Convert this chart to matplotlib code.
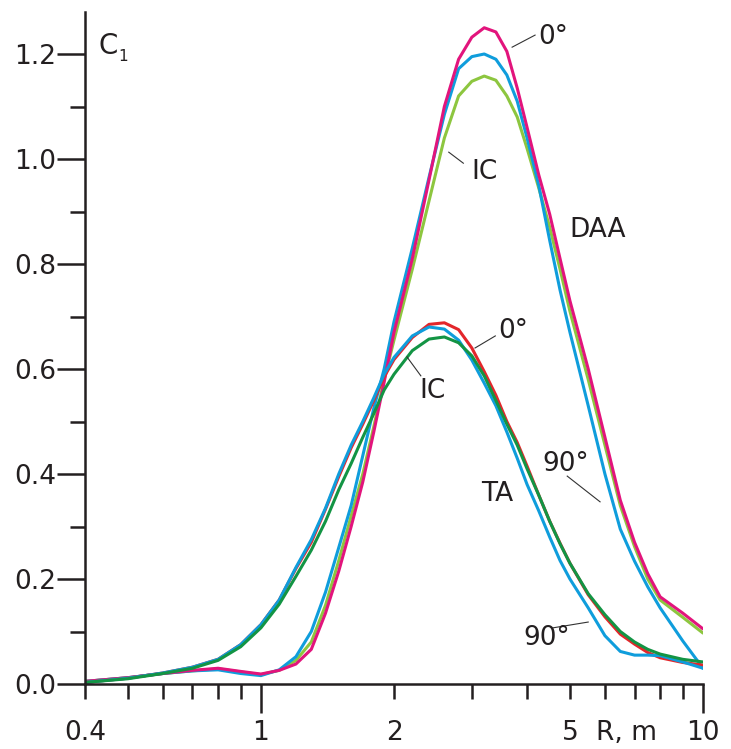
import numpy as np
import matplotlib
matplotlib.use('Agg')
import matplotlib.pyplot as plt
from matplotlib.ticker import FixedLocator, NullFormatter

# distance grid, m
R = [0.4, 0.5, 0.6, 0.7, 0.8, 0.9, 1.0, 1.1, 1.2, 1.3, 1.4, 1.5, 1.6, 1.7, 1.8, 1.9, 2.0,
     2.2, 2.4, 2.6, 2.8, 3.0, 3.2, 3.4, 3.6, 3.8, 4.0, 4.25, 4.5, 4.75, 5.0, 5.5, 6.0, 6.5,
     7.0, 7.5, 8.0, 9.0, 10.0]

# DAA curves
daa_0 = [0.005, 0.012, 0.020, 0.026, 0.030, 0.024, 0.019, 0.026, 0.038, 0.066, 0.135, 0.215,
         0.30, 0.385, 0.48, 0.575, 0.67, 0.81, 0.96, 1.10, 1.19, 1.232, 1.25, 1.242, 1.205,
         1.135, 1.06, 0.97, 0.895, 0.81, 0.73, 0.60, 0.47, 0.35, 0.27, 0.21, 0.166, 0.135, 0.105]
daa_90 = [0.005, 0.012, 0.020, 0.025, 0.029, 0.023, 0.018, 0.026, 0.045, 0.08, 0.15, 0.235,
          0.32, 0.40, 0.49, 0.58, 0.655, 0.79, 0.92, 1.04, 1.12, 1.148, 1.158, 1.15, 1.12,
          1.08, 1.02, 0.945, 0.87, 0.79, 0.71, 0.58, 0.455, 0.34, 0.262, 0.20, 0.16, 0.127, 0.097]
daa_ic = [0.005, 0.012, 0.020, 0.025, 0.027, 0.020, 0.016, 0.027, 0.052, 0.10, 0.175, 0.26,
          0.34, 0.435, 0.525, 0.60, 0.69, 0.83, 0.965, 1.085, 1.172, 1.195, 1.20, 1.19, 1.16,
          1.11, 1.04, 0.95, 0.845, 0.75, 0.67, 0.53, 0.40, 0.295, 0.234, 0.185, 0.145, 0.082, 0.03]

# TA curves
ta_0 = [0.003, 0.011, 0.021, 0.032, 0.047, 0.075, 0.113, 0.16, 0.22, 0.27, 0.333, 0.395,
        0.45, 0.495, 0.54, 0.585, 0.618, 0.66, 0.685, 0.688, 0.675, 0.64, 0.595, 0.55, 0.50,
        0.46, 0.415, 0.36, 0.31, 0.268, 0.23, 0.17, 0.128, 0.095, 0.076, 0.06, 0.05, 0.041, 0.036]
ta_90 = [0.003, 0.010, 0.020, 0.030, 0.045, 0.071, 0.107, 0.152, 0.205, 0.255, 0.31, 0.37,
         0.42, 0.47, 0.515, 0.56, 0.59, 0.635, 0.657, 0.661, 0.65, 0.625, 0.587, 0.54, 0.495,
         0.455, 0.41, 0.36, 0.31, 0.267, 0.23, 0.172, 0.132, 0.10, 0.08, 0.066, 0.057, 0.047, 0.042]
ta_ic = [0.003, 0.011, 0.021, 0.032, 0.047, 0.075, 0.113, 0.16, 0.222, 0.275, 0.335, 0.40,
         0.455, 0.50, 0.545, 0.59, 0.622, 0.663, 0.68, 0.676, 0.655, 0.617, 0.573, 0.53, 0.48,
         0.43, 0.38, 0.33, 0.28, 0.235, 0.20, 0.145, 0.092, 0.062, 0.055, 0.055, 0.054, 0.042, 0.03]

x_labels = [0.4, 1, 2, 5, 10]
y_ticks = [0.0, 0.2, 0.4, 0.6, 0.8, 1.0, 1.2]

MAGENTA = '#e2147c'
LIME = '#8dc63f'
BLUE = '#0f9ddc'
RED = '#e3262b'
GREEN = '#139444'
INK = '#231f20'

plt.rcParams['font.family'] = ['DejaVu Sans']
fs = 19

fig = plt.figure(figsize=(7.31, 7.49), dpi=100)
ax = fig.add_axes([85 / 731, 65 / 749, 618 / 731, 672 / 749])

lw = 2.2
kw = dict(lw=lw, solid_capstyle='round', solid_joinstyle='round')
ax.plot(R, daa_90, color=LIME, **kw)
ax.plot(R, daa_ic, color=BLUE, **kw)
ax.plot(R, daa_0, color=MAGENTA, **kw)
ax.plot(R, ta_0, color=RED, **kw)
ax.plot(R, ta_ic, color=BLUE, **kw)
ax.plot(R, ta_90, color=GREEN, **kw)

ax.set_xscale('log')
ax.set_xlim(0.4, 10)
ax.set_ylim(0, 1.28)

for s in ['top', 'right']:
    ax.spines[s].set_visible(False)
for s in ['left', 'bottom']:
    ax.spines[s].set_linewidth(1.8)
    ax.spines[s].set_color(INK)

# x ticks: long at decades, short elsewhere, labels drawn as text
ax.xaxis.set_major_locator(FixedLocator([1, 10]))
ax.xaxis.set_minor_locator(FixedLocator([0.4, 0.5, 0.6, 0.7, 0.8, 0.9, 2, 3, 4, 5, 6, 7, 8, 9]))
ax.xaxis.set_major_formatter(NullFormatter())
ax.xaxis.set_minor_formatter(NullFormatter())
ax.tick_params(axis='x', which='major', length=21, width=1.8, color=INK, direction='out')
ax.tick_params(axis='x', which='minor', length=10.5, width=1.8, color=INK, direction='out')

ax.yaxis.set_major_locator(FixedLocator(y_ticks))
ax.yaxis.set_minor_locator(FixedLocator([0.1, 0.3, 0.5, 0.7, 0.9, 1.1]))
ax.set_yticklabels([f'{v:.1f}' for v in y_ticks])
ax.tick_params(axis='y', which='major', length=20, width=1.8, color=INK, pad=1,
               labelsize=fs, labelcolor=INK)
ax.tick_params(axis='y', which='minor', length=10.5, width=1.8, color=INK)

for v in x_labels:
    ax.annotate(f'{v:g}', xy=(v, 0), xycoords=('data', 'axes fraction'),
                xytext=(0, -35), textcoords='offset points',
                ha='center', va='center', fontsize=fs, color=INK)
ax.annotate('R, m', xy=(6.7, 0), xycoords=('data', 'axes fraction'),
            xytext=(0, -35), textcoords='offset points',
            ha='center', va='center', fontsize=fs, color=INK)

ax.text(0.43, 1.215, 'C', fontsize=fs + 1, color=INK, ha='left', va='center')
ax.text(0.475, 1.195, '1', fontsize=11, color=INK, ha='left', va='center')

# curve labels with leader lines
def label(txt, tx, ty, lead=None):
    ax.text(tx, ty, txt, fontsize=fs, color=INK, ha='center', va='center')
    if lead is not None:
        ax.plot(lead[0], lead[1], color='#333333', lw=0.8)

label('0°', 4.58, 1.232, ([3.70, 4.17], [1.213, 1.236]))
label('IC', 3.20, 0.975, ([2.66, 2.87], [1.013, 0.992]))
label('DAA', 5.79, 0.865)
label('0°', 3.72, 0.672, ([3.05, 3.39], [0.640, 0.663]))
label('IC', 2.44, 0.558, ([2.14, 2.30], [0.623, 0.587]))
label('90°', 4.88, 0.419, ([4.93, 5.85], [0.396, 0.347]))
label('TA', 3.42, 0.362)
label('90°', 4.44, 0.088, ([4.58, 5.50], [0.107, 0.118]))

fig.savefig('out.png', dpi=100)
